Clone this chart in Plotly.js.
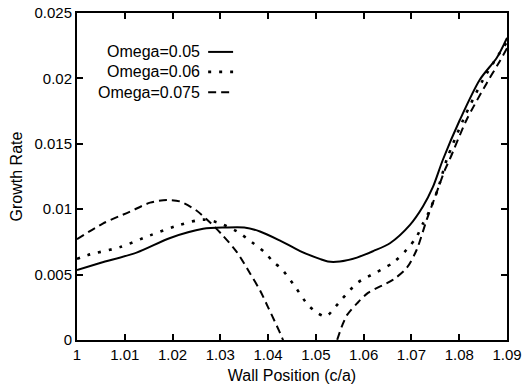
<!DOCTYPE html>
<html>
<head>
<meta charset="utf-8">
<script src="https://cdn.plot.ly/plotly-3.0.1.min.js"></script>
<style>html,body{margin:0;padding:0;background:#fff;}#chart{width:522px;height:392px;}</style>
</head>
<body>
<div id="chart"></div>
<script>
// Omega = 0.05 (solid)
const x05 = [1.000,1.005,1.0126,1.0195,1.0264,1.031,1.035,1.0383,1.0425,1.0467,1.0508,1.0525,1.055,1.0586,1.062,1.0655,1.0697,1.0724,1.0745,1.0766,1.0801,1.0843,1.0879,1.090];
const y05 = [0.00535,0.0059,0.0067,0.0078,0.0085,0.0086,0.0086,0.0083,0.0076,0.0068,0.0062,0.0060,0.0060,0.0063,0.0068,0.0074,0.0088,0.0102,0.0117,0.0138,0.0168,0.0199,0.0216,0.0231];
// Omega = 0.06 (dotted)
const x06 = [1.000,1.0023,1.009,1.0153,1.0215,1.0264,1.0293,1.0335,1.0358,1.0393,1.041,1.0429,1.0456,1.0483,1.0502,1.0521,1.054,1.0554,1.0571,1.0588,1.0607,1.0661,1.069,1.0711,1.0724,1.0738,1.0755,1.0774,1.0808,1.085,1.090];
const y06 = [0.0062,0.0065,0.0071,0.0080,0.0088,0.0092,0.0090,0.0083,0.0077,0.0067,0.0060,0.0054,0.0041,0.0027,0.0021,0.0018,0.0025,0.0031,0.0038,0.0044,0.0048,0.0059,0.0069,0.0079,0.0089,0.0099,0.0115,0.0138,0.0168,0.0199,0.0228];
// Omega = 0.075 (dashed)
const x075 = [1.000,1.0054,1.011,1.0153,1.0188,1.0215,1.025,1.0278,1.0305,1.0335,1.0362,1.0383,1.040,1.0418,1.0429,1.0445,1.049,1.053,1.0555,1.0565,1.0586,1.0609,1.0661,1.069,1.0711,1.0732,1.0749,1.077,1.078,1.0815,1.0857,1.0883,1.090];
const y075 = [0.0077,0.0089,0.0098,0.0105,0.0107,0.0106,0.0099,0.0090,0.0080,0.0067,0.0051,0.0038,0.0025,0.0011,0.0002,-0.0012,-0.0025,-0.0012,0.0011,0.0019,0.0028,0.0036,0.0046,0.0055,0.0069,0.0092,0.0109,0.0130,0.0138,0.0168,0.0196,0.0212,0.0223];

const seriesNames = ['Omega=0.05','Omega=0.06','Omega=0.075'];
const xTicks = [1,1.01,1.02,1.03,1.04,1.05,1.06,1.07,1.08,1.09];
const xTickText = ['1','1.01','1.02','1.03','1.04','1.05','1.06','1.07','1.08','1.09'];
const yTicks = [0,0.005,0.01,0.015,0.02,0.025];
const yTickText = ['0','0.005','0.01','0.015','0.02','0.025'];

const FONT = 'Liberation Sans, Arial, Helvetica, sans-serif';
const dashes = ['solid','3px,8px','8px,5px'];
const widths = [2,2.6,2];
const xs = [x05,x06,x075], ys = [y05,y06,y075];

const traces = xs.map((x,i)=>({
  x: x, y: ys[i], type:'scatter', mode:'lines', name: seriesNames[i],
  line:{color:'#000', width:widths[i], dash:dashes[i], shape:'spline', smoothing:0.8},
  showlegend:false, hoverinfo:'skip'
}));

const legY = [0.881,0.820,0.758];
const annotations = seriesNames.map((n,i)=>({
  xref:'paper', yref:'paper', x:0.291, y:legY[i], xanchor:'right', yanchor:'middle',
  text:n, showarrow:false, font:{family:FONT, size:16, color:'#000'}
}));
const shapes = seriesNames.map((n,i)=>({
  type:'line', xref:'paper', yref:'paper', x0:0.305, x1:0.363, y0:legY[i], y1:legY[i],
  line:{color:'#000', width:widths[i], dash:dashes[i]}
}));

const layout = {
  width:522, height:392,
  margin:{l:77, r:15, t:13, b:52},
  paper_bgcolor:'#fff', plot_bgcolor:'#fff',
  font:{family:FONT, size:15, color:'#000'},
  xaxis:{
    range:[1,1.09], tickvals:xTicks, ticktext:xTickText,
    ticks:'inside', ticklen:6, tickwidth:2, tickcolor:'#000',
    showline:true, linewidth:2, linecolor:'#000', mirror:'ticks',
    showgrid:false, zeroline:false,
    tickfont:{family:FONT, size:15},
    title:{text:'Wall Position (c/a)', font:{family:FONT, size:16}, standoff:8}
  },
  yaxis:{
    range:[0,0.025], tickvals:yTicks, ticktext:yTickText,
    ticks:'inside', ticklen:6, tickwidth:2, tickcolor:'#000',
    showline:true, linewidth:2, linecolor:'#000', mirror:'ticks',
    showgrid:false, zeroline:false,
    tickfont:{family:FONT, size:15},
    title:{text:'Growth Rate', font:{family:FONT, size:16}, standoff:8}
  },
  annotations: annotations,
  shapes: shapes
};

Plotly.newPlot('chart', traces, layout, {displayModeBar:false, staticPlot:true});
</script>
</body>
</html>
